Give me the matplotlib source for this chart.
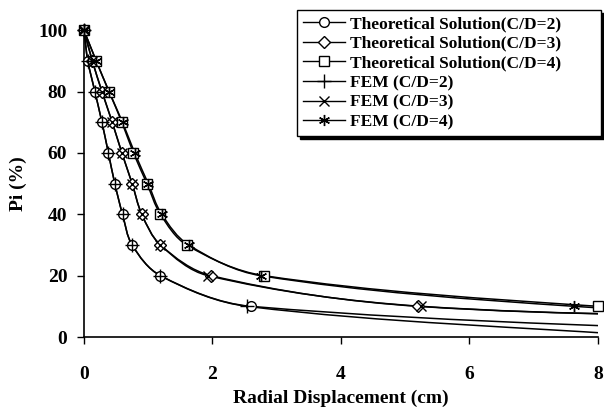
import numpy as np
import matplotlib.pyplot as plt
from matplotlib.path import Path
from matplotlib.patches import PathPatch
from matplotlib.lines import Line2D

plt.rcParams['font.family'] = ['Liberation Serif', 'DejaVu Serif']
plt.rcParams['font.weight'] = 'bold'

# === data === #
# last point of each series lies beyond x=8, so only the clipped line shows
theo_cd2_x = [0, 0.06, 0.17, 0.28, 0.38, 0.48, 0.60, 0.75, 1.19, 2.60, 12.5]
theo_cd2_pi = [100, 90, 80, 70, 60, 50, 40, 30, 20, 10, 0]
theo_cd3_x = [0, 0.13, 0.28, 0.44, 0.59, 0.75, 0.90, 1.19, 1.98, 5.20, 12.0]
theo_cd3_pi = [100, 90, 80, 70, 60, 50, 40, 30, 20, 10, 6]
theo_cd4_x = [0, 0.19, 0.39, 0.59, 0.77, 0.98, 1.19, 1.60, 2.80, 8.00, 12.0]
theo_cd4_pi = [100, 90, 80, 70, 60, 50, 40, 30, 20, 10, 7]
fem_cd2_x = [0, 0.06, 0.17, 0.28, 0.38, 0.48, 0.60, 0.75, 1.19, 2.54, 9.0]
fem_cd2_pi = [100, 90, 80, 70, 60, 50, 40, 30, 20, 10, 0]
fem_cd3_x = [0, 0.13, 0.28, 0.44, 0.59, 0.75, 0.90, 1.19, 1.93, 5.25, 12.0]
fem_cd3_pi = [100, 90, 80, 70, 60, 50, 40, 30, 20, 10, 6]
fem_cd4_x = [0, 0.19, 0.39, 0.60, 0.79, 1.00, 1.21, 1.63, 2.75, 7.63, 12.0]
fem_cd4_pi = [100, 90, 80, 70, 60, 50, 40, 30, 20, 10, 7]

labels = ["Theoretical Solution(C/D=2)", "Theoretical Solution(C/D=3)",
          "Theoretical Solution(C/D=4)", "FEM (C/D=2)", "FEM (C/D=3)", "FEM (C/D=4)"]

XMAX, YMAX = 8, 100


def smooth_path(x, y, sx=1 / 8, sy=0.6 / 100):
    # smoothed line like a spreadsheet "smoothed line" (cubic Bezier through the points)
    q = np.column_stack([x, y]).astype(float) * [sx, sy]
    n = len(q)
    verts, codes = [q[0]], [Path.MOVETO]
    for i in range(n - 1):
        q0, q1, q2, q3 = q[max(i - 1, 0)], q[i], q[i + 1], q[min(i + 2, n - 1)]
        d = np.hypot(*(q2 - q1))
        t1 = q2 - q0
        t1 = t1 / np.hypot(*t1)
        t2 = q3 - q1
        t2 = t2 / np.hypot(*t2)
        verts += [q1 + t1 * d / 3, q2 - t2 * d / 3, q2]
        codes += [Path.CURVE4] * 3
    verts = np.array(verts) / [sx, sy]
    return Path(verts, codes)


fig = plt.figure(figsize=(6.04, 4.13), dpi=100)
ax = fig.add_axes([0.139, 0.184, 0.851, 0.743])

series = [
    (theo_cd2_x, theo_cd2_pi, dict(marker='o', ms=7, mfc='white')),
    (theo_cd3_x, theo_cd3_pi, dict(marker='D', ms=6, mfc='white')),
    (theo_cd4_x, theo_cd4_pi, dict(marker='s', ms=6.5, mfc='white')),
    (fem_cd2_x, fem_cd2_pi, dict(marker='+', ms=10)),
    (fem_cd3_x, fem_cd3_pi, dict(marker='x', ms=7)),
    (fem_cd4_x, fem_cd4_pi, dict(marker=(6, 2, 0), ms=8)),
]

handles = []
for k, (x, y, mk) in enumerate(series):
    ax.add_patch(PathPatch(smooth_path(x, y), fill=False, edgecolor='black', lw=1.1, zorder=2))
for k, (x, y, mk) in enumerate(series):
    x = np.array(x)
    y = np.array(y)
    show = x <= XMAX
    ax.plot(x[show], y[show], ls='none', color='black', mec='black', mew=1.0,
            clip_on=False, zorder=3 + k, **mk)
    handles.append(Line2D([0], [0], color='black', lw=1.0, mec='black', mew=1.0, **mk))

ax.set_xlim(0, XMAX)
ax.set_ylim(0, YMAX)
ax.set_xticks([0, 2, 4, 6, 8])
ax.set_yticks([0, 20, 40, 60, 80, 100])
ax.spines['top'].set_visible(False)
ax.spines['right'].set_visible(False)
ax.spines['left'].set_linewidth(1.2)
ax.spines['bottom'].set_linewidth(1.2)
ax.tick_params(axis='x', direction='out', length=5, width=1, labelsize=14, pad=16)
ax.tick_params(axis='y', direction='out', length=5, width=1, labelsize=14, pad=7)
ax.set_xlabel("Radial Displacement (cm)", fontsize=14, fontweight='bold', labelpad=5)
ax.set_ylabel("Pi (%)", fontsize=14, fontweight='bold', labelpad=8)

# legend box spans x 297..601 px, y 10..142 px of the figure
leg = fig.legend(handles, labels, loc='upper left',
                 bbox_to_anchor=(297 / 604, 1 - 142 / 413, 304 / 604, 132 / 413),
                 mode='expand', fontsize=12.5, frameon=True, fancybox=False,
                 edgecolor='black', handlelength=2.4, handletextpad=0.3,
                 labelspacing=0.2, borderpad=0.35, borderaxespad=0,
                 shadow=dict(ox=2, oy=-2, color='black', alpha=1))
leg.get_frame().set_linewidth(1.0)

plt.savefig("out.png", dpi=100)
plt.close()
